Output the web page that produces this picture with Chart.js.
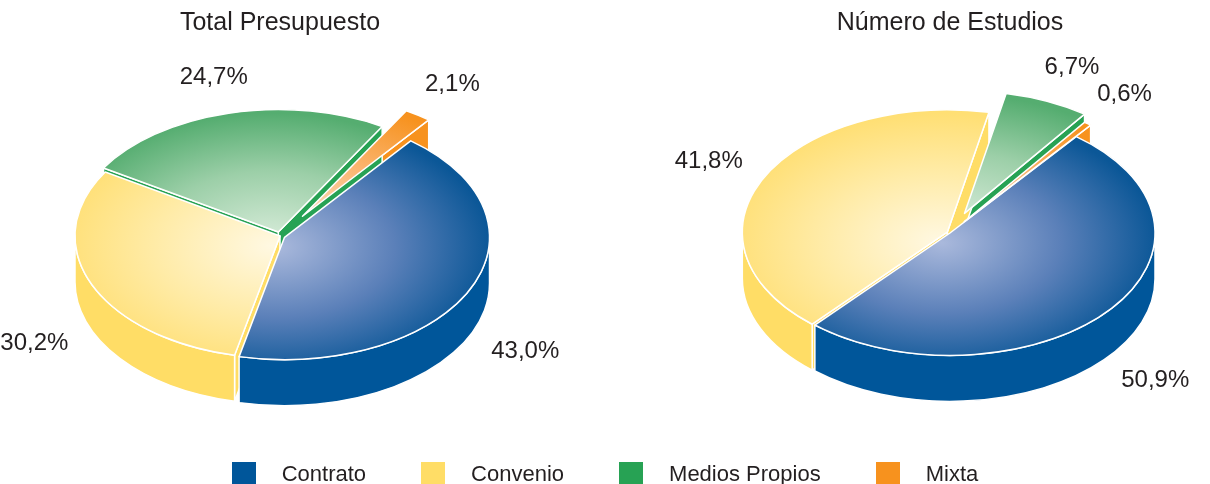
<!DOCTYPE html>
<html>
<head>
<meta charset="utf-8">
<script src="https://cdn.jsdelivr.net/npm/chart.js@4.4.1/dist/chart.umd.min.js"></script>
<style>
    body { margin: 0; width: 1210px; height: 484px; overflow: hidden; position: relative; background: #fff; font-family: "Liberation Sans", Arial, sans-serif; }
    .pie { position: absolute; top: 0; height: 484px; }
    #boxLeft { left: 0; width: 570px; }
    #boxRight { left: 640px; width: 570px; }
    #legend { position: absolute; left: 0; top: 462px; width: 1210px; display: flex; justify-content: center; gap: 55px; }
    .item { display: flex; align-items: flex-start; }
    .sw { width: 24px; height: 24px; margin-right: 26px; }
    .lbl { font-size: 22px; line-height: 23px; color: #231f20; }
</style>
</head>
<body>
<div class="pie" id="boxLeft"><canvas id="presupuestoChart"></canvas></div>
<div class="pie" id="boxRight"><canvas id="estudiosChart"></canvas></div>
<div id="legend"></div>

<script>
// === DATA ===
const categories = ['Contrato', 'Convenio', 'Medios Propios', 'Mixta'];
const presupuestoPct = [43.0, 30.2, 24.7, 2.1];
const estudiosPct = [50.9, 41.8, 6.7, 0.6];

// gradient stops for the top faces, solid colour for the walls
const TOP = [
    ['#aab9dc', '#5b80b9', '#0b5797'],
    ['#fff8e2', '#ffeba6', '#ffdf74'],
    ['#d8ecda', '#9ccfa8', '#55ad70'],
    ['#fee4cc', '#fab46e', '#f7921e']
];
const SIDE = ['#00569a', '#ffdd66', '#27a254', '#f7921e'];

function frontRanges(a0, a1) {
    const out = [];
    for (let n = -1; n <= 2; n++) {
        const lo = Math.max(a0, n * 2 * Math.PI), hi = Math.min(a1, n * 2 * Math.PI + Math.PI);
        if (hi > lo) out.push([lo, hi]);
    }
    return out;
}

function sliceGeom(chart, o) {
    const meta = chart.getDatasetMeta(0);
    return meta.data.map((arc, i) => {
        const p = arc.getProps(['x', 'y', 'startAngle', 'endAngle', 'outerRadius'], true);
        const mid = (p.startAngle + p.endAngle) / 2;
        const ex = o.explode[i] || 0;
        return { i, r: p.outerRadius, a0: p.startAngle, a1: p.endAngle, mid, ex,
            cx: p.x, cy: p.y,
            x: p.x + Math.cos(mid) * ex, y: p.y + Math.sin(mid) * ex * o.tilt };
    });
}

// flattened pie with depth, drawn from the arc elements chart.js lays out
const pie3d = {
    id: 'pie3d',
    beforeDatasetsDraw(chart, args, o) {
        const ctx = chart.ctx;
        const k = o.tilt, depth = o.depth;
        const slices = sliceGeom(chart, o);
        ctx.save();
        ctx.lineWidth = 1.5;
        ctx.strokeStyle = '#ffffff';
        ctx.lineJoin = 'round';

        // radial walls facing the viewer, back ones first
        const walls = [];
        slices.forEach(s => {
            if (Math.cos(s.a0) < 0) walls.push({ s, a: s.a0 });
            if (Math.cos(s.a1) > 0) walls.push({ s, a: s.a1 });
        });
        walls.sort((p, q) => (p.s.y + Math.sin(p.a) * p.s.r * k / 2) - (q.s.y + Math.sin(q.a) * q.s.r * k / 2));
        walls.forEach(({ s, a }) => {
            const ox = s.x + Math.cos(a) * s.r, oy = s.y + Math.sin(a) * s.r * k;
            ctx.beginPath();
            ctx.moveTo(s.x, s.y);
            ctx.lineTo(ox, oy);
            ctx.lineTo(ox, oy + depth);
            ctx.lineTo(s.x, s.y + depth);
            ctx.closePath();
            ctx.fillStyle = SIDE[s.i];
            ctx.fill();
            ctx.stroke();
        });

        // outer walls (front half only)
        slices.forEach(s => {
            frontRanges(s.a0, s.a1).forEach(([lo, hi]) => {
                ctx.beginPath();
                ctx.ellipse(s.x, s.y, s.r, s.r * k, 0, lo, hi);
                ctx.ellipse(s.x, s.y + depth, s.r, s.r * k, 0, hi, lo, true);
                ctx.closePath();
                ctx.fillStyle = SIDE[s.i];
                ctx.fill();
                ctx.stroke();
            });
        });

        // top faces
        slices.forEach(s => {
            ctx.save();
            ctx.translate(s.x, s.y);
            ctx.scale(1, k);
            ctx.beginPath();
            ctx.moveTo(0, 0);
            ctx.arc(0, 0, s.r, s.a0, s.a1);
            ctx.closePath();
            const g = ctx.createRadialGradient(-0.04 * s.r, 0.08 * s.r, 0, -0.04 * s.r, 0.08 * s.r, s.r * 1.05);
            g.addColorStop(0, TOP[s.i][0]);
            g.addColorStop(0.55, TOP[s.i][1]);
            g.addColorStop(1, TOP[s.i][2]);
            ctx.fillStyle = g;
            ctx.fill();
            ctx.restore();
            ctx.stroke();
        });
        ctx.restore();
        return false;
    },
    afterDraw(chart, args, o) {
        const ctx = chart.ctx;
        const values = chart.data.datasets[0].data;
        ctx.save();
        ctx.font = '24px "Liberation Sans", Arial, sans-serif';
        ctx.fillStyle = '#231f20';
        ctx.textAlign = 'center';
        ctx.textBaseline = 'middle';
        sliceGeom(chart, o).forEach(s => {
            const d = s.r * 1.3 + s.ex;
            const x = s.cx + Math.cos(s.mid) * d;
            const y = s.cy + Math.sin(s.mid) * d * o.tilt + (Math.sin(s.mid) > 0 ? o.depth : 0);
            ctx.fillText(values[s.i].toFixed(1).replace('.', ',') + '%', x, y);
        });
        ctx.restore();
    }
};

function makePie(id, title, values, explode, padding) {
    return new Chart(document.getElementById(id), {
        type: 'pie',
        data: { labels: categories, datasets: [{ data: values, backgroundColor: SIDE, borderWidth: 0, clip: false }] },
        options: {
            responsive: true, maintainAspectRatio: false, animation: false, events: [],
            rotation: 38, radius: 205,
            layout: { padding },
            plugins: {
                legend: { display: false },
                tooltip: { enabled: false },
                title: {
                    display: true, text: title, color: '#231f20',
                    font: { family: '"Liberation Sans", Arial, sans-serif', size: 25, weight: 'normal' },
                    padding: { top: 8, bottom: 8 }
                },
                pie3d: { tilt: 0.597, depth: 46, explode }
            }
        },
        plugins: [pie3d]
    });
}

makePie('presupuestoChart', 'Total Presupuesto', presupuestoPct, [5, 0, 7, 40], { left: 0, right: 10, top: 0, bottom: 58 });
makePie('estudiosChart', 'Número de Estudios', estudiosPct, [0, 3, 36, 24], { left: 50, right: 0, top: 0, bottom: 64 });

// shared legend
const legend = document.getElementById('legend');
categories.forEach((c, i) => {
    const it = document.createElement('div');
    it.className = 'item';
    it.innerHTML = `<span class="sw" style="background:${SIDE[i]}"></span><span class="lbl">${c}</span>`;
    legend.appendChild(it);
});
</script>
</body>
</html>
